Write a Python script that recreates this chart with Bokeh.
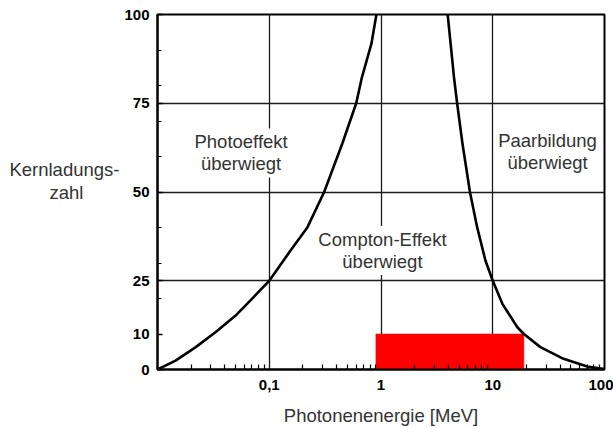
from bokeh.plotting import figure
from bokeh.models import Range1d, FixedTicker, Label
from bokeh.embed import file_html
from bokeh.resources import INLINE

# Boundary: photo effect = Compton effect (energy in MeV, atomic number Z)
photo_energy = [0.01, 0.0145, 0.022, 0.033, 0.05, 0.07, 0.1, 0.155, 0.22, 0.31, 0.45, 0.6, 0.675, 0.82, 0.91]
photo_z = [0, 2.5, 6.3, 10.5, 15.2, 19.9, 25, 33.5, 40.1, 50, 63.6, 75, 82.3, 91.7, 100]

# Boundary: Compton effect = pair production
pair_energy = [3.95, 4.2, 4.5, 4.8, 5.36, 6.25, 7.25, 8.6, 10, 12.2, 16.6, 19, 26.7, 43, 70, 100]
pair_z = [100, 91.7, 82.3, 75, 63.6, 50, 40.1, 30.7, 25, 18.5, 11.9, 10, 6.3, 3.0, 0.85, 0.1]

# Highlighted range (red bar)
bar_energy = [0.9, 19]
bar_z = [0, 10]

x_ticks = [0.1, 1, 10, 100]
x_tick_labels = ["0,1", "1", "10", "100"]
x_minor = [0.02, 0.03, 0.04, 0.05, 0.06, 0.07, 0.08, 0.09,
           0.2, 0.3, 0.4, 0.5, 0.6, 0.7, 0.8, 0.9,
           2, 3, 4, 5, 6, 7, 8, 9,
           20, 30, 40, 50, 60, 70, 80, 90]
x_grid = [0.1, 1, 10]
y_ticks = [0, 10, 25, 50, 75, 100]
y_minor = [20, 30, 40, 60, 70, 80, 90]
y_grid = [25, 50, 75]

regions = ["Photoeffekt\nüberwiegt", "Compton-Effekt\nüberwiegt", "Paarbildung\nüberwiegt"]
region_energy = [0.056, 1.03, 30.9]
region_z = [61.0, 33.5, 61.5]

NB = "\u00a0"
FONT = "Liberation Sans"
TXT = "#333333"

p = figure(width=613, height=428, x_axis_type="log",
           x_range=Range1d(0.01, 100), y_range=Range1d(0, 100),
           output_backend="svg", toolbar_location=None,
           min_border_left=157, min_border_right=9, min_border_top=14, min_border_bottom=59,
           background_fill_color="white", border_fill_color="white")

p.outline_line_color = "black"
p.outline_line_width = 2
p.outline_line_alpha = 1

# grids
p.xgrid.ticker = FixedTicker(ticks=x_grid)
p.ygrid.ticker = FixedTicker(ticks=y_grid)
for g in (p.xgrid, p.ygrid):
    g.grid_line_color = "#1a1a1a"
    g.grid_line_width = 1.3
    g.grid_line_alpha = 1

# axes
p.xaxis.ticker = FixedTicker(ticks=x_ticks, minor_ticks=x_minor)
p.xaxis.major_label_overrides = {t: l for t, l in zip(x_ticks, x_tick_labels)}
p.yaxis.ticker = FixedTicker(ticks=y_ticks, minor_ticks=y_minor)
for ax in (p.xaxis, p.yaxis):
    ax.axis_line_color = "black"
    ax.axis_line_width = 2
    ax.major_tick_out = 0
    ax.minor_tick_out = 0
    ax.major_tick_line_color = "black"
    ax.minor_tick_line_color = "black"
    ax.major_tick_line_width = 1.3
    ax.minor_tick_line_width = 1.2
    ax.major_label_text_font = FONT
    ax.major_label_text_font_style = "bold"
    ax.major_label_text_font_size = "15px"
    ax.major_label_text_color = "black"
p.xaxis.major_tick_in = 0
p.xaxis.minor_tick_in = 5
p.yaxis.major_tick_in = 5
p.yaxis.minor_tick_in = 4
p.xaxis.major_label_standoff = 10
p.yaxis.major_label_standoff = 8

p.xaxis.axis_label = "Photonenenergie [MeV]"
p.xaxis.axis_label_text_font = FONT
p.xaxis.axis_label_text_font_style = "normal"
p.xaxis.axis_label_text_font_size = "18.5px"
p.xaxis.axis_label_text_color = TXT
p.xaxis.axis_label_text_line_height = 0.8
p.xaxis.axis_label_standoff = 12

p.yaxis.axis_label = "Kernladungs-\nzahl" + NB * 7 + "\n" + NB
p.yaxis.axis_label_orientation = "horizontal"
p.yaxis.axis_label_text_font = FONT
p.yaxis.axis_label_text_font_style = "normal"
p.yaxis.axis_label_text_font_size = "18.5px"
p.yaxis.axis_label_text_color = TXT
p.yaxis.axis_label_text_line_height = 1.05
p.yaxis.axis_label_standoff = 2

# curves and bar
p.quad(left=[bar_energy[0]], right=[bar_energy[1]], bottom=[bar_z[0]], top=[bar_z[1]],
       fill_color="#ff0000", line_color="#ff0000", line_width=0.5)
p.line(photo_energy, photo_z, line_color="black", line_width=2.6, line_join="round")
p.line(pair_energy, pair_z, line_color="black", line_width=2.6, line_join="round")

# region labels
for txt, xe, yz in zip(regions, region_energy, region_z):
    p.add_layout(Label(x=xe, y=yz, text=txt, text_align="center", text_baseline="middle",
                       text_font=FONT, text_font_size="18.5px", text_color=TXT,
                       text_line_height=1.05,
                       background_fill_color="white", background_fill_alpha=1, padding=3))

open("out.html", "w").write(file_html(p, INLINE))
